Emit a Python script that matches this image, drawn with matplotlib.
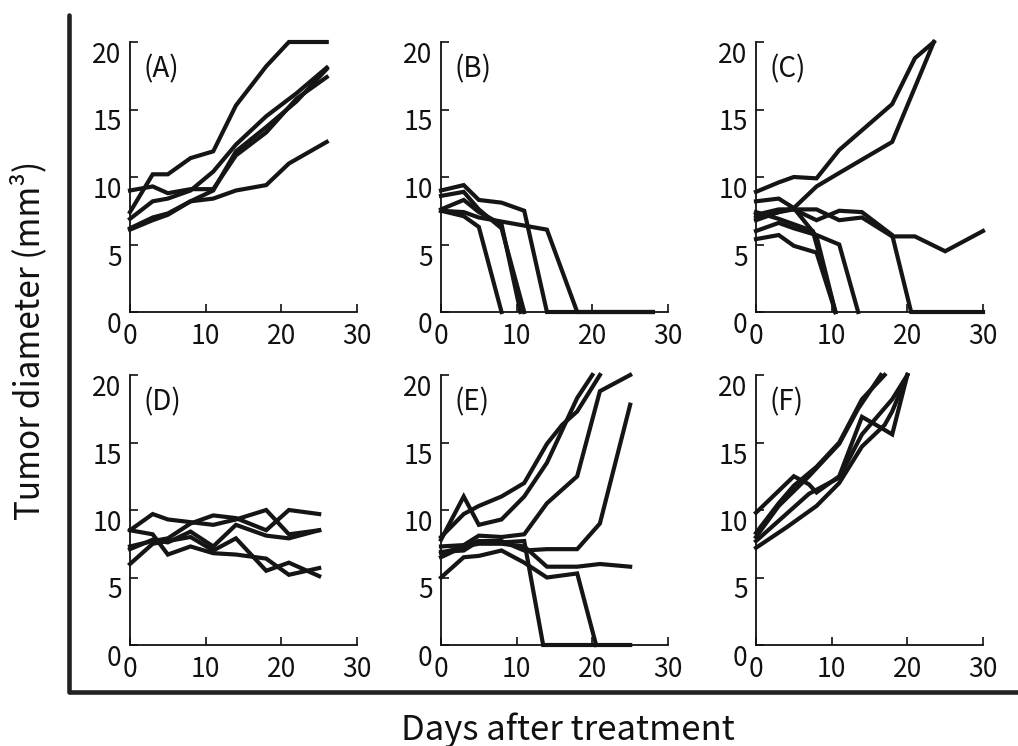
import matplotlib
matplotlib.use("Agg")
import matplotlib.pyplot as plt
from matplotlib.lines import Line2D

plt.rcParams['font.family'] = ['Noto Sans CJK JP', 'DejaVu Sans']

# ---- data: each line = (days, diameter) ----
A_LINES = [
    ([0, 3, 5, 8, 11, 14, 18, 21, 26], [7.4, 10.2, 10.2, 11.4, 11.9, 15.3, 18.2, 20, 20]),
    ([0, 3, 5, 8, 11, 14, 18, 22, 26], [9.0, 9.3, 8.8, 9.1, 9.1, 11.6, 13.3, 15.8, 17.4]),
    ([0, 3, 5, 8, 11, 14, 18, 22, 26], [6.9, 8.2, 8.4, 9.0, 10.4, 12.4, 14.5, 16.2, 18.1]),
    ([0, 3, 5, 8, 11, 14, 18, 22, 26], [6.2, 7.0, 7.3, 8.2, 9.0, 11.9, 13.7, 15.6, 18.0]),
    ([0, 3, 5, 8, 11, 14, 18, 21, 26], [6.1, 6.8, 7.2, 8.2, 8.4, 9.0, 9.4, 11.0, 12.6]),
]
B_LINES = [
    ([0, 3, 5, 8, 11, 14, 28], [9.0, 9.4, 8.3, 8.1, 7.5, 0, 0]),
    ([0, 3, 5, 8, 11], [8.6, 8.9, 7.6, 6.2, 0]),
    ([0, 3, 5, 8, 10.5], [7.6, 8.3, 7.4, 6.5, 0]),
    ([0, 3, 5, 8, 11, 14, 18, 28], [7.5, 7.4, 7.0, 6.7, 6.4, 6.1, 0, 0]),
    ([0, 3, 5, 8], [7.5, 7.1, 6.3, 0]),
]
C_LINES = [
    ([0, 3, 5, 8, 11, 18, 21, 23.5], [8.9, 9.6, 10.0, 9.9, 12.0, 15.4, 18.8, 20]),
    ([0, 3, 5, 8, 10.5], [8.2, 8.4, 7.7, 5.6, 0]),
    ([0, 3, 5, 8, 11, 18, 23.5], [6.8, 7.4, 7.7, 9.3, 10.3, 12.6, 20]),
    ([0, 3, 5, 8, 11, 14, 18, 21, 25, 30], [7.2, 7.6, 7.6, 7.6, 6.8, 7.0, 5.6, 5.6, 4.5, 6.0]),
    ([0, 3, 5, 8, 11, 14, 18, 20.5, 30], [7.0, 7.4, 7.6, 6.8, 7.5, 7.4, 5.7, 0, 0]),
    ([0, 3, 5, 8, 11, 13.5], [6.0, 6.6, 6.2, 5.7, 5.0, 0]),
    ([0, 3, 5, 8, 10.5], [5.4, 5.7, 4.9, 4.4, 0]),
    ([0, 3, 5, 7.5, 10.5], [7.4, 6.9, 6.5, 6.0, 0]),
]
D_LINES = [
    ([0, 3, 5, 8, 11, 14, 18, 21, 25], [8.5, 9.7, 9.3, 9.1, 8.9, 9.3, 10.0, 8.2, 8.5]),
    ([0, 3, 5, 8, 11, 14, 18, 21, 25], [8.5, 8.2, 6.7, 7.3, 6.8, 6.7, 6.4, 5.2, 5.7]),
    ([0, 3, 5, 8, 11, 14, 18, 21, 25], [7.3, 7.7, 7.9, 9.0, 9.6, 9.4, 8.5, 10.0, 9.7]),
    ([0, 3, 5, 8, 11, 14, 18, 21, 25], [7.1, 7.8, 7.6, 8.4, 7.3, 8.9, 8.1, 7.9, 8.5]),
    ([0, 3, 5, 8, 11, 14, 18, 21, 25], [6.0, 7.5, 7.7, 8.0, 7.0, 7.9, 5.5, 6.1, 5.1]),
]
E_LINES = [
    ([0, 3, 5, 8, 11, 14, 18, 20], [7.8, 11.0, 8.9, 9.3, 11.0, 13.5, 18.3, 20]),
    ([0, 3, 5, 8, 11, 14, 16, 18, 21], [8.0, 9.7, 10.3, 11.0, 12.0, 14.9, 16.3, 17.3, 20]),
    ([0, 3, 5, 8, 11, 14, 18, 21, 25], [7.3, 7.4, 8.1, 8.0, 8.2, 10.5, 12.5, 18.8, 20]),
    ([0, 3, 5, 8, 11, 14, 18, 21, 25], [6.8, 7.3, 7.7, 7.7, 7.0, 7.1, 7.1, 9.0, 17.8]),
    ([0, 3, 5, 8, 11, 14, 18, 21, 25], [6.5, 7.3, 7.5, 7.5, 7.3, 5.8, 5.8, 6.0, 5.8]),
    ([0, 3, 5, 8, 11, 13.5, 25], [6.9, 7.0, 7.7, 7.6, 7.7, 0, 0]),
    ([0, 3, 5, 8, 11, 14, 18, 20.5], [5.0, 6.5, 6.6, 7.0, 6.1, 5.0, 5.3, 0]),
]
F_LINES = [
    ([0, 5, 7, 8, 11, 14, 16.5, 18, 20], [9.8, 12.5, 11.9, 11.3, 12.5, 16.9, 16.1, 15.6, 20]),
    ([0, 3, 5, 8, 11, 14, 17], [8.3, 10.5, 11.8, 13.2, 15.0, 18.2, 20]),
    ([0, 3, 7, 11, 13.5, 16.5], [8.0, 10.3, 12.5, 14.9, 17.5, 20]),
    ([0, 3, 7, 11, 14, 18, 20], [7.7, 9.2, 11.2, 12.4, 15.6, 18.2, 20]),
    ([0, 4, 8, 11, 14, 17, 18, 20], [7.2, 8.7, 10.3, 12.0, 14.7, 16.3, 17.3, 20]),
]

PANELS = ["(A)", "(B)", "(C)", "(D)", "(E)", "(F)"]
ALL_LINES = [A_LINES, B_LINES, C_LINES, D_LINES, E_LINES, F_LINES]
X_TICKS = [0, 10, 20, 30]
Y_TICKS = [0, 5, 10, 15, 20]

W, H = 1018, 746
fig = plt.figure(figsize=(W / 100, H / 100), dpi=100)

lefts = [130, 441, 756]
tops = [42, 375]
aw, ah = 227, 270

for i, (name, lines) in enumerate(zip(PANELS, ALL_LINES)):
    row, col = divmod(i, 3)
    ax = fig.add_axes([lefts[col] / W, 1 - (tops[row] + ah) / H, aw / W, ah / H])
    for t, y in lines:
        ax.plot(t, y, color='#151515', lw=3.0, solid_joinstyle='miter',
                clip_on=False, zorder=3)
    ax.set_xlim(0, 30)
    ax.set_ylim(0, 20)
    ax.set_xticks(X_TICKS)
    ax.set_yticks(Y_TICKS)
    for s in ['top', 'right']:
        ax.spines[s].set_visible(False)
    for s in ['left', 'bottom']:
        ax.spines[s].set_linewidth(1.3)
        ax.spines[s].set_color('#111')
    ax.tick_params(direction='in', length=6, width=1.2, labelsize=19,
                   colors='#111')
    ax.tick_params(axis='x', pad=8)
    ax.tick_params(axis='y', pad=6)
    for lab in ax.get_yticklabels():
        lab.set_va('top')
    ax.text(0.06, 0.955, name, transform=ax.transAxes, fontsize=20,
            va='top', ha='left', color='#111')

# outer frame (left + bottom)
fig.add_artist(Line2D([69 / W, 69 / W], [1 - 15 / H, 1 - 692 / H],
                      color='#222', lw=3.3, solid_capstyle='round'))
fig.add_artist(Line2D([69 / W, 1.0], [1 - 692 / H, 1 - 692 / H],
                      color='#222', lw=3.3, solid_capstyle='butt'))

fig.text(29 / W, 1 - 340 / H, "Tumor diameter (mm³)", rotation=90,
         ha='center', va='center', fontsize=24, color='#111')
fig.text(568 / W, 1 - 730 / H, "Days after treatment",
         ha='center', va='center', fontsize=25, color='#111')

fig.savefig("out.png", dpi=100)
